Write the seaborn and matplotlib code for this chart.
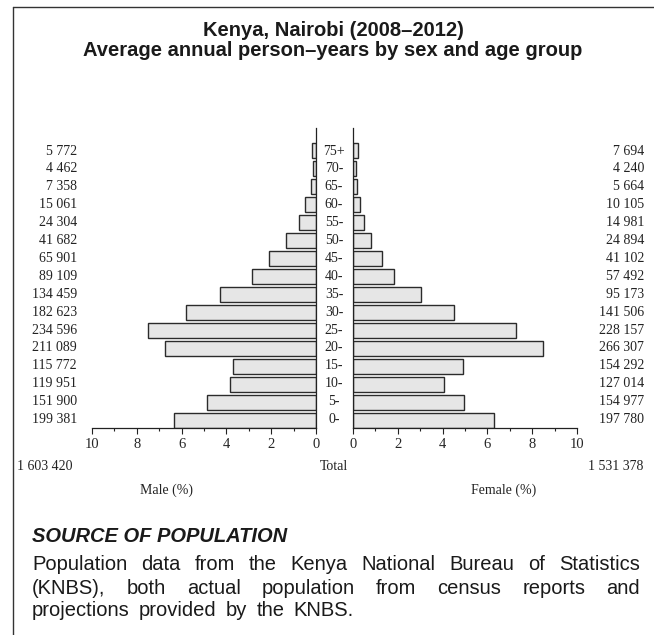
import numpy as np
import pandas as pd
import matplotlib
matplotlib.use("Agg")
import matplotlib.pyplot as plt
from matplotlib.lines import Line2D
from matplotlib.ticker import MultipleLocator
import seaborn as sns

# data
ages = ["75+", "70-", "65-", "60-", "55-", "50-", "45-", "40-",
        "35-", "30-", "25-", "20-", "15-", "10-", "5-", "0-"]
male = [5772, 4462, 7358, 15061, 24304, 41682, 65901, 89109,
        134459, 182623, 234596, 211089, 115772, 119951, 151900, 199381]
female = [7694, 4240, 5664, 10105, 14981, 24894, 41102, 57492,
          95173, 141506, 228157, 266307, 154292, 127014, 154977, 197780]
male_total = 1603420
female_total = 1531378

title1 = "Kenya, Nairobi (2008\u20132012)"
title2 = "Average annual person\u2013years by sex and age group"
source_head = "SOURCE OF POPULATION"
source_lines = ["Population data from the Kenya National Bureau of Statistics",
                "(KNBS), both actual population from census reports and",
                "projections provided by the KNBS."]

grand = male_total + female_total
df = pd.DataFrame({"age": ages,
                   "male": np.array(male) / grand * 100,
                   "female": np.array(female) / grand * 100})

sns.set_style("white")
plt.rcParams["font.family"] = ["Liberation Serif", "DejaVu Serif"]

W, H = 654, 635
fig = plt.figure(figsize=(W / 100, H / 100), dpi=100)


def fx(x):
    return x / W


def fy(y):
    return 1 - y / H


def spaced(n):
    return f"{n:,}".replace(",", " ")


bar_kw = dict(color="#e6e6e6", edgecolor="#2b2b2b", linewidth=1.0,
              width=0.86, orient="h", order=ages)

axl = fig.add_axes([fx(92), fy(428), 224 / W, 300 / H])
axr = fig.add_axes([fx(353), fy(428), 224 / W, 300 / H])

sns.barplot(data=df, x="male", y="age", ax=axl, **bar_kw)
sns.barplot(data=df, x="female", y="age", ax=axr, **bar_kw)

for ax in (axl, axr):
    ax.set_ylim(15.43, -1.25)
    ax.set_yticks([])
    ax.set_ylabel("")
    ax.set_xlabel("")
    ax.xaxis.set_major_locator(MultipleLocator(2))
    ax.xaxis.set_minor_locator(MultipleLocator(1))
    ax.tick_params(axis="x", which="major", direction="out", length=4,
                   width=0.8, color="#222222", labelsize=10.5, pad=3,
                   bottom=True)
    ax.tick_params(axis="x", which="minor", direction="out", length=2.5,
                   width=0.8, color="#222222", bottom=True)
    ax.spines["top"].set_visible(False)
    for s in ax.spines.values():
        s.set_color("#222222")
        s.set_linewidth(0.9)
    ax.patch.set_alpha(0)

axl.set_xlim(10, 0)
axl.spines["left"].set_visible(False)
axr.set_xlim(0, 10)
axr.spines["right"].set_visible(False)

num_kw = dict(fontsize=10, color="#222222", va="center")

# row labels: counts and age groups
for i, age in enumerate(ages):
    y = 419.5 - (15 - i) * 17.9
    fig.text(fx(77), fy(y), spaced(male[i]), ha="right", **num_kw)
    fig.text(fx(644), fy(y), spaced(female[i]), ha="right", **num_kw)
    fig.text(fx(334), fy(y), age, ha="center", **num_kw)

fig.text(fx(17), fy(467), spaced(male_total), ha="left", **num_kw)
fig.text(fx(334), fy(467), "Total", ha="center", **num_kw)
fig.text(fx(643), fy(467), spaced(female_total), ha="right", **num_kw)
fig.text(fx(167), fy(490), "Male (%)", ha="center", **num_kw)
fig.text(fx(504), fy(490), "Female (%)", ha="center", **num_kw)

# title
sans = ["Liberation Sans", "DejaVu Sans"]
fig.text(fx(333), fy(31), title1, ha="center", va="center", family=sans,
         fontsize=14.5, fontweight="bold", color="#1a1a1a")
fig.text(fx(333), fy(50), title2, ha="center", va="center", family=sans,
         fontsize=14.5, fontweight="bold", color="#1a1a1a")

# source note
fig.text(fx(32), fy(536), source_head, ha="left", va="center", family=sans,
         fontsize=14.5, fontweight="bold", fontstyle="italic", color="#1a1a1a")

renderer = fig.canvas.get_renderer()


def justified(line, y, x0, x1):
    words = line.split()
    texts = [fig.text(0, fy(y), w, ha="left", va="center", family=sans,
                      fontsize=14.5, color="#1a1a1a") for w in words]
    widths = [t.get_window_extent(renderer).width for t in texts]
    gap = (x1 - x0 - sum(widths)) / (len(words) - 1)
    x = x0
    for t, w in zip(texts, widths):
        t.set_x(fx(x))
        x += w + gap


justified(source_lines[0], 565, 32, 640)
justified(source_lines[1], 588, 32, 640)
justified(source_lines[2], 611, 32, 354)

# frame lines
fig.add_artist(Line2D([fx(13), fx(13)], [fy(7), fy(635)], color="#333333",
                      linewidth=1.0, transform=fig.transFigure))
fig.add_artist(Line2D([fx(13), fx(654)], [fy(7), fy(7)], color="#333333",
                      linewidth=1.0, transform=fig.transFigure))

fig.savefig("out.png", dpi=100, facecolor="white")
plt.close(fig)
